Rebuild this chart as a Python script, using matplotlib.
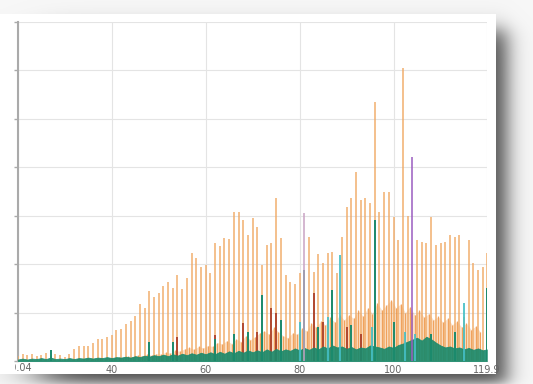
import numpy as np
import matplotlib
matplotlib.use("Agg")
import matplotlib.pyplot as plt
from matplotlib.transforms import Bbox, TransformedBbox

# ---------------- data ----------------
masses = list(range(20, 120)) + [119.85]

orange_main = [
    0.10, 0.15, 0.12, 0.14, 0.10, 0.12, 0.16, 0.10, 0.14, 0.12,   # 20-29
    0.08, 0.15, 0.24, 0.31, 0.31, 0.31, 0.37, 0.45, 0.45, 0.50,   # 30-39
    0.54, 0.63, 0.66, 0.76, 0.83, 0.93, 1.18, 1.09, 1.45, 1.33,   # 40-49
    1.40, 1.55, 1.64, 1.50, 1.78, 1.48, 1.71, 2.24, 2.12, 1.95,   # 50-59
    1.98, 1.82, 2.43, 2.37, 2.53, 2.51, 3.08, 3.08, 2.91, 2.60,   # 60-69
    2.95, 2.76, 1.98, 2.40, 2.43, 3.36, 2.53, 1.78, 1.64, 1.60,   # 70-79
    1.81, 1.00, 2.57, 1.84, 2.21, 2.02, 2.22, 2.26, 1.81, 2.57,   # 80-89
    3.19, 3.36, 3.91, 3.32, 3.36, 3.27, 5.35, 3.08, 3.50, 3.48,   # 90-99
    2.98, 2.50, 6.05, 2.99, 1.00, 2.50, 2.46, 2.43, 2.98, 2.40,   # 100-109
    2.44, 2.46, 2.60, 2.57, 2.60, 0.90, 2.50, 2.02, 1.88, 1.95,   # 110-119
    2.22,                                                         # 119.9
]

noise_pos = [m + 0.5 for m in range(20, 119)]
orange_noise = [
    0.02, 0.02, 0.03, 0.02, 0.02, 0.03, 0.02, 0.02, 0.03, 0.02,
    0.03, 0.03, 0.04, 0.03, 0.05, 0.04, 0.05, 0.06, 0.05, 0.07,
    0.06, 0.08, 0.07, 0.10, 0.09, 0.12, 0.10, 0.14, 0.12, 0.15,
    0.14, 0.18, 0.16, 0.22, 0.20, 0.25, 0.28, 0.24, 0.30, 0.27,
    0.32, 0.30, 0.38, 0.35, 0.42, 0.36, 0.45, 0.40, 0.52, 0.44,
    0.50, 0.58, 0.62, 0.55, 0.70, 0.60, 0.52, 0.48, 0.58, 0.55,
    0.68, 0.62, 0.78, 0.70, 0.82, 0.74, 0.90, 0.80, 0.95, 0.85,
    0.95, 0.88, 1.05, 0.92, 1.10, 0.98, 1.20, 1.05, 1.15, 1.26,
    1.10, 1.18, 1.00, 1.12, 0.95, 1.05, 0.90, 0.98, 0.85, 0.92,
    0.80, 0.88, 0.75, 0.82, 0.70, 0.78, 0.65, 0.72, 0.60,
]

green_base = [
    0.03, 0.05, 0.03, 0.05, 0.04, 0.06, 0.04, 0.07, 0.04, 0.05,
    0.04, 0.06, 0.04, 0.06, 0.05, 0.07, 0.05, 0.07, 0.06, 0.08,
    0.06, 0.08, 0.07, 0.09, 0.07, 0.10, 0.08, 0.11, 0.09, 0.12,
    0.10, 0.13, 0.10, 0.14, 0.11, 0.15, 0.12, 0.16, 0.13, 0.17,
    0.14, 0.18, 0.14, 0.19, 0.15, 0.20, 0.16, 0.21, 0.17, 0.22,
    0.18, 0.22, 0.18, 0.24, 0.19, 0.25, 0.20, 0.24, 0.21, 0.26,
    0.22, 0.27, 0.23, 0.28, 0.24, 0.30, 0.26, 0.32, 0.28, 0.30,
    0.25, 0.29, 0.24, 0.28, 0.26, 0.32, 0.30, 0.28, 0.25, 0.30,
    0.27, 0.33, 0.36, 0.40, 0.44, 0.48, 0.42, 0.50, 0.45, 0.38,
    0.32, 0.28, 0.30, 0.26, 0.28, 0.24, 0.27, 0.23, 0.26, 0.22,
    0.24,
]

green_spk_x = [27, 48, 53, 62, 66, 69, 72, 76, 81, 84, 87, 91, 96, 100, 108, 113, 119.85]
green_spk_h = [0.23, 0.40, 0.40, 0.45, 0.55, 0.60, 1.36, 0.85, 1.88, 0.70, 1.47, 0.75, 2.91, 0.80, 0.55, 0.60, 1.50]

cyan_x = [80, 86, 88.5, 95.5, 102.5, 104.5, 115]
cyan_h = [0.80, 0.90, 2.19, 0.70, 0.60, 0.55, 1.20]

red_x = [54, 62, 68, 71, 74, 75, 83, 85, 90, 93]
red_h = [0.50, 0.54, 0.78, 0.60, 1.10, 1.00, 1.40, 0.80, 0.70, 0.55]

purple_x = [104]
purple_h = [4.21]
lavender_x = [81]
lavender_h = [3.05]

x_ticks = [20.04, 40, 60, 80, 100, 119.9]
x_labels = ["20.04", "40", "60", "80", "100", "119.9"]
y_ticks = [0, 1, 2, 3, 4, 5, 6, 7]

# ---------------- figure & screenshot-like background ----------------
W, H = 533, 384
fig = plt.figure(figsize=(W / 100, H / 100), dpi=100)

bg = fig.add_axes([0, 0, 1, 1], zorder=0)
bg.axis("off")
xx = np.arange(W) + 0.5
yy = np.arange(H) + 0.5


def soft_band(v, a, b, sa, sb):
    return 0.5 * (np.tanh((v - a) / sa) - np.tanh((v - b) / sb))


shadow = 0.65 * soft_band(xx, 40, 507, 30, 12)[None, :] * soft_band(yy, 30, 383, 12, 7)[:, None]
img = 0.97 - shadow
panel = (xx[None, :] <= 496) & (yy[:, None] >= 14) & (yy[:, None] <= 374)
img = np.where(panel, 1.0, img)
bg.imshow(np.dstack([img, img, img]), extent=[0, W, H, 0], aspect="auto", interpolation="bilinear")
bg.set_xlim(0, W)
bg.set_ylim(H, 0)

# ---------------- chart axes ----------------
ax = fig.add_axes([18 / W, 23 / H, 469 / W, 339 / H], zorder=1)
ax.set_facecolor("white")
ax.set_xlim(20.04, 119.9)
ax.set_ylim(0, 7)

# orange noise band
ax.fill_between(noise_pos, 0, orange_noise, color="#F29A48", alpha=0.3, lw=0, zorder=1)
ax.vlines(noise_pos, 0, orange_noise, color="#EC8830", lw=0.9, alpha=0.7, zorder=2)

# main orange peaks
ax.vlines(masses, 0, orange_main, color="#F0AA66", lw=1.1, alpha=0.95, zorder=3)

# dark red spikes
ax.vlines(red_x, 0, red_h, color="#A3301F", lw=1.3, alpha=0.9, zorder=4)

# green baseline band
ax.fill_between(masses, 0, green_base, color="#1B8A6C", alpha=0.92, lw=0.6, zorder=5)

# green / cyan spikes
ax.vlines(green_spk_x, 0, green_spk_h, color="#1B8A6C", lw=1.4, zorder=6)
ax.vlines(cyan_x, 0, cyan_h, color="#45BFC6", lw=1.4, alpha=0.9, zorder=6)

# purple / lavender lines
ax.vlines(purple_x, 0, purple_h, color="#9A5CC0", lw=1.1, zorder=7)
ax.vlines(lavender_x, 0, lavender_h, color="#C9A3C4", lw=1.1, zorder=7)

# grid & axes styling
ax.set_xticks(x_ticks)
ax.set_xticklabels([""] + x_labels[1:])
ax.set_yticks(y_ticks)
ax.set_yticklabels([])
ax.grid(True, color="#e4e4e4", lw=0.8, zorder=0)
ax.set_axisbelow(True)
for s in ["top", "right"]:
    ax.spines[s].set_visible(False)
ax.spines["left"].set_color("#aaaaaa")
ax.spines["left"].set_linewidth(1.5)
ax.spines["bottom"].set_color("#cccccc")
ax.spines["bottom"].set_linewidth(0.8)
ax.tick_params(axis="x", length=0, pad=3, labelsize=7, labelcolor="#666666")
ax.tick_params(axis="y", length=3, width=1, color="#aaaaaa")

# first x label, partly cut off by the screenshot edge
t = fig.text(18 / W, (H - 368) / H, x_labels[0], ha="center", va="center",
             fontsize=7, color="#666666", zorder=3)
t.set_clip_box(TransformedBbox(Bbox.from_extents(14.5 / W, 0, 1, 1), fig.transFigure))
t.set_clip_on(True)

fig.savefig("out.png", dpi=100)
